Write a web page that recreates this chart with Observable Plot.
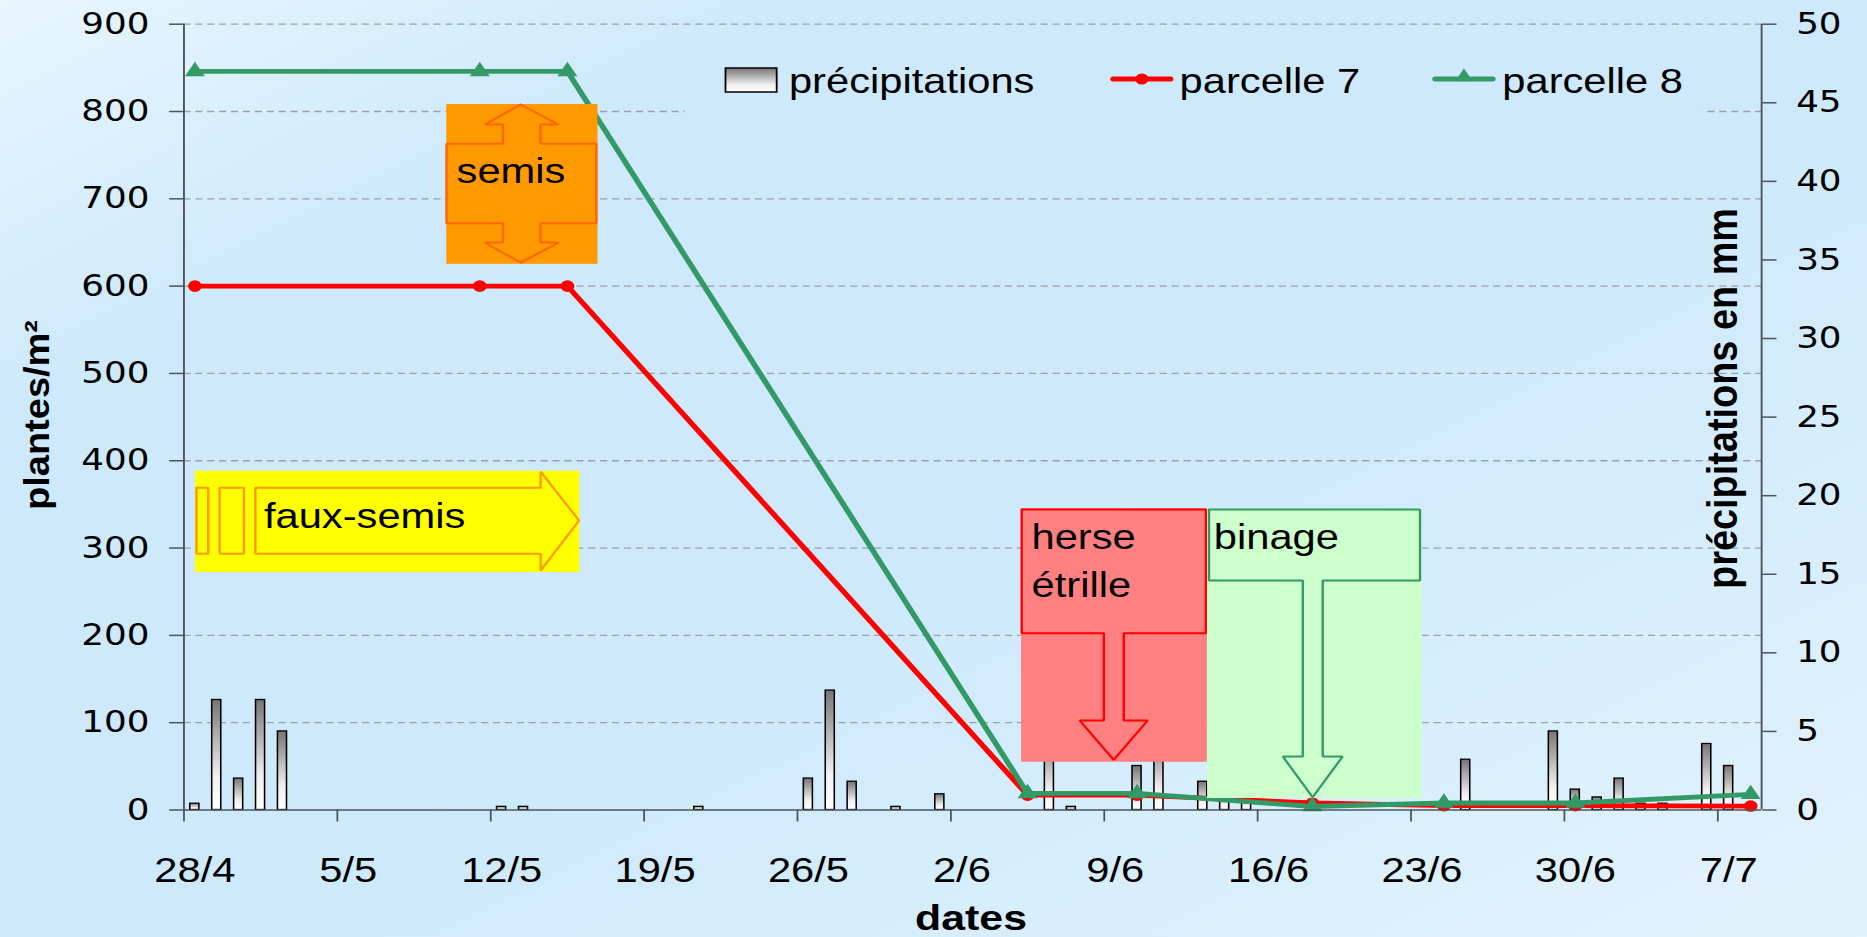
<!DOCTYPE html>
<html><head><meta charset="utf-8">
<script src="https://cdn.jsdelivr.net/npm/d3@7"></script>
<script src="https://cdn.jsdelivr.net/npm/@observablehq/plot@0.6"></script>
<style>
html,body{margin:0;padding:0;width:1867px;height:937px;overflow:hidden;
background:linear-gradient(to bottom right,#e8f6fe 0%,#cde9fb 22%,#cde9fb 55%,#e3f3fd 100%);}
#chart svg{display:block}
</style></head><body><div id="chart"></div>
<script>
// ---------- data ----------
const rainDates = ["2008-04-28","2008-04-29","2008-04-30","2008-05-01","2008-05-02","2008-05-12","2008-05-13","2008-05-21","2008-05-26","2008-05-27","2008-05-28","2008-05-30","2008-06-01","2008-06-06","2008-06-07","2008-06-10","2008-06-11","2008-06-13","2008-06-14","2008-06-15","2008-06-25","2008-06-29","2008-06-30","2008-07-01","2008-07-02","2008-07-03","2008-07-04","2008-07-06","2008-07-07"];
const rainMm = [0.4,7.0,2.0,7.0,5.0,0.2,0.2,0.2,2.0,7.6,1.8,0.2,1.0,4.5,0.2,2.8,4.5,1.8,1.2,1.0,3.2,5.0,1.3,0.8,2.0,0.4,0.4,4.2,2.8];
const countDates = ["2008-04-28","2008-05-11","2008-05-15","2008-06-05","2008-06-10","2008-06-18","2008-06-24","2008-06-30","2008-07-08"];
const parcelle7 = [600,600,600,17,17,8,5,5,4.5];
const parcelle8 = [846,846,846,19,19,4,8,8,18];
const seriesNames = ["précipitations","parcelle 7","parcelle 8"];
const xDomain = ["2008-04-28","2008-07-09"];
const xTickDates = ["2008-04-28","2008-05-05","2008-05-12","2008-05-19","2008-05-26","2008-06-02","2008-06-09","2008-06-16","2008-06-23","2008-06-30","2008-07-07"];
const yLeftTicks = [0,100,200,300,400,500,600,700,800,900];
const yRightTicks = [0,5,10,15,20,25,30,35,40,45,50];
const axisTitles = {x:"dates", yLeft:"plantes/m²", yRight:"précipitations en mm"};
// annotations (days after 28/4, plantes/m²)
const annoBoxes = [
  {name:"faux-semis", d1:0.53, d2:18.07, v1:272, v2:388},
  {name:"semis", d1:12.0, d2:18.9, v1:625, v2:808},
  {name:"herse", d1:38.23, d2:46.71, v1:54.7, v2:345.2},
  {name:"binage", d1:46.72, d2:56.52, v1:13.2, v2:345.2}
];
const annoOutlines = [
  {name:"faux-semis", pts:[[0.57,369],[1.11,369],[1.11,293.4],[0.57,293.4],[0.57,369]]},
  {name:"faux-semis", pts:[[1.63,369],[2.74,369],[2.74,293.4],[1.63,293.4],[1.63,369]]},
  {name:"faux-semis", pts:[[3.26,369],[16.28,369],[16.28,387.6],[18.03,331.5],[16.28,274.2],[16.28,293.4],[3.26,293.4],[3.26,369]]},
  {name:"semis", pts:[[15.37,808],[17.1,785],[16.27,785],[16.27,763],[18.82,763],[18.82,672],[16.27,672],[16.27,650],[17.1,650],[15.37,627],[13.72,650],[14.56,650],[14.56,672],[11.98,672],[11.98,763],[14.56,763],[14.56,785],[13.72,785],[15.37,808]]},
  {name:"herse", pts:[[38.23,344.1],[46.64,344.1],[46.64,202.4],[42.89,202.4],[42.89,102.5],[43.98,102.5],[42.43,57.5],[40.88,102.5],[41.98,102.5],[41.98,202.4],[38.23,202.4],[38.23,344.1]]},
  {name:"binage", pts:[[46.78,344.1],[56.41,344.1],[56.41,262.8],[51.97,262.8],[51.97,61.3],[52.88,61.3],[51.51,14.7],[50.15,61.3],[51.06,61.3],[51.06,262.8],[46.78,262.8],[46.78,344.1]]}
];
const annoTexts = [
  {name:"faux-semis", text:"faux-semis", d:3.65, v:323},
  {name:"semis", text:"semis", d:12.44, v:717.7},
  {name:"herse", text:"herse", d:38.68, v:299.4},
  {name:"herse", text:"étrille", d:38.68, v:243.7},
  {name:"binage", text:"binage", d:47.0, v:299.4}
];

// ---------- styles ----------
const annoStyle = {
  "faux-semis":{fill:"#ffff00", stroke:"#ff9900"},
  "semis":{fill:"#ff9900", stroke:"#ff6600"},
  "herse":{fill:"#ff8080", stroke:"#ff0000"},
  "binage":{fill:"#ccffcc", stroke:"#339966"}
};
const RED = "#ff0000", GREEN = "#339966", AXIS = "#4d545b";
const rainToPlants = 900/50;
const W = 1568, H = 937, FULLW = 1867;

const DAY = 864e5;
const parse = s => new Date(s + "T00:00:00Z");
const start = parse(xDomain[0]).getTime();
const dayAt = k => new Date(start + k*DAY);

const rain = rainDates.map((d,i)=>({x1:parse(d), x2:new Date(parse(d).getTime()+DAY), y:rainMm[i]*rainToPlants}));
const counts = countDates.map((d,i)=>({x:new Date(parse(d).getTime()+DAY/2), p7:parcelle7[i], p8:parcelle8[i]}));

const marks = [
  Plot.ruleY(yLeftTicks.filter(v=>v>0), {stroke:"#9aa2a8", strokeWidth:1.3, strokeDasharray:"6,4"}),
  Plot.rect(rain, {x1:"x1", x2:"x2", y1:0, y2:"y", insetLeft:5.4, insetRight:5.4, fill:"url(#barGrad)", stroke:"#000", strokeWidth:1.3}),
  Plot.line(counts, {x:"x", y:"p7", stroke:RED, strokeWidth:4.8}),
  Plot.dot(counts, {x:"x", y:"p7", r:5.8, fill:RED, stroke:"none"}),
  Plot.line(counts, {x:"x", y:"p8", stroke:GREEN, strokeWidth:4.8}),
  Plot.dot(counts, {x:"x", y:"p8", r:6.2, symbol:"triangle", fill:GREEN, stroke:"none"})
];
for (const b of annoBoxes) {
  const st = annoStyle[b.name];
  marks.push(Plot.rect([b], {x1:d=>dayAt(d.d1), x2:d=>dayAt(d.d2), y1:"v1", y2:"v2", fill:st.fill}));
  for (const o of annoOutlines.filter(o=>o.name===b.name)) {
    marks.push(Plot.line(o.pts, {x:p=>dayAt(p[0]), y:p=>p[1], stroke:st.stroke, strokeWidth:2, strokeLinejoin:"miter"}));
  }
}
marks.push(Plot.text(annoTexts, {x:d=>dayAt(d.d), y:"v", text:"text", textAnchor:"start", lineAnchor:"bottom", fontSize:35, fill:"#000"}));
// axes
marks.push(
  Plot.ruleX([parse(xDomain[0]), parse(xDomain[1])], {stroke:AXIS, strokeWidth:1.6}),
  Plot.ruleY([0], {stroke:AXIS, strokeWidth:1.6}),
  Plot.axisY(yLeftTicks, {anchor:"left", tickSize:12, tickPadding:17, stroke:AXIS, strokeWidth:1.5, fill:"#000", fontFamily:"'DejaVu Sans', sans-serif", fontSize:30, label:null}),
  Plot.axisY(yRightTicks.map(v=>v*rainToPlants), {anchor:"right", tickSize:12, tickPadding:17, stroke:AXIS, strokeWidth:1.5, fill:"#000", fontFamily:"'DejaVu Sans', sans-serif", fontSize:30, tickFormat:d=>String(Math.round(d/rainToPlants)), label:null}),
  Plot.axisX(xTickDates.map(parse), {anchor:"bottom", tickSize:12, stroke:AXIS, strokeWidth:1.5, tickFormat:()=>"", label:null}),
  Plot.axisX(xTickDates.map(parse), {anchor:"bottom", tickSize:0, tickPadding:47, dx:9.2, fill:"#000", fontSize:35, tickFormat:d3.utcFormat("%-d/%-m"), label:null})
);

const svg = Plot.plot({
  width:W, height:H,
  marginLeft:154, marginRight:89, marginTop:23.7, marginBottom:127.5,
  x:{type:"utc", domain:xDomain.map(parse), label:null},
  y:{domain:[0,900], label:null},
  style:{background:"transparent", fontFamily:"'Liberation Sans', Arial, sans-serif", fontSize:"35px", color:"#000", overflow:"visible", width:FULLW+"px", height:H+"px", maxWidth:"none"},
  marks
});

const s = d3.select(svg);
s.insert("defs", ":first-child").html(
  `<linearGradient id="barGrad" x1="0" y1="0" x2="0" y2="1">
     <stop offset="0" stop-color="#757575"/><stop offset="0.7" stop-color="#f0f0f0"/><stop offset="1" stop-color="#ffffff"/>
   </linearGradient>`);

// legend
const lg = s.append("g").attr("font-family","'Liberation Sans', Arial, sans-serif").attr("font-size",35).attr("text-anchor","start");
lg.append("rect").attr("x",575).attr("y",48).attr("width",855).attr("height",70).attr("fill","#cde9fb");
lg.append("rect").attr("x",609.3).attr("y",68).attr("width",43).attr("height",24).attr("fill","url(#barGrad)").attr("stroke","#000").attr("stroke-width",1.5);
lg.append("text").attr("x",662.6).attr("y",93.3).attr("text-anchor","start").text(seriesNames[0]);
lg.append("line").attr("x1",935).attr("x2",983).attr("y1",79).attr("y2",79).attr("stroke",RED).attr("stroke-width",5).attr("stroke-linecap","round");
lg.append("circle").attr("cx",959).attr("cy",79).attr("r",5.5).attr("fill",RED);
lg.append("text").attr("x",990.7).attr("y",93.3).attr("text-anchor","start").text(seriesNames[1]);
lg.append("line").attr("x1",1205.4).attr("x2",1253.6).attr("y1",79).attr("y2",79).attr("stroke",GREEN).attr("stroke-width",5).attr("stroke-linecap","round");
lg.append("path").attr("transform","translate(1229.5,77)").attr("d",d3.symbol(d3.symbolTriangle, Math.PI*5.5*5.5)()).attr("fill",GREEN);
lg.append("text").attr("x",1261.7).attr("y",93.3).attr("text-anchor","start").text(seriesNames[2]);

// axis titles
const tg = s.append("g").attr("font-family","'Liberation Sans', Arial, sans-serif").attr("font-weight","bold").attr("fill","#000");
tg.append("text").attr("x",815.5).attr("y",930).attr("text-anchor","middle").attr("font-size",36).text(axisTitles.x);
tg.append("text").attr("transform","translate(30.8,415) rotate(-90)").attr("text-anchor","middle").attr("dy","0.35em")
  .attr("font-size",29).attr("textLength",190).attr("lengthAdjust","spacingAndGlyphs").text(axisTitles.yLeft);
tg.append("text").attr("transform","translate(1446,398.5) rotate(-90)").attr("text-anchor","middle").attr("dy","0.35em")
  .attr("font-size",36).attr("textLength",381).attr("lengthAdjust","spacingAndGlyphs").text(axisTitles.yRight);

svg.setAttribute("width", FULLW);
svg.setAttribute("height", H);
svg.setAttribute("viewBox", `0 0 ${W} ${H}`);
svg.setAttribute("preserveAspectRatio", "none");
document.getElementById("chart").appendChild(svg);
</script></body></html>
